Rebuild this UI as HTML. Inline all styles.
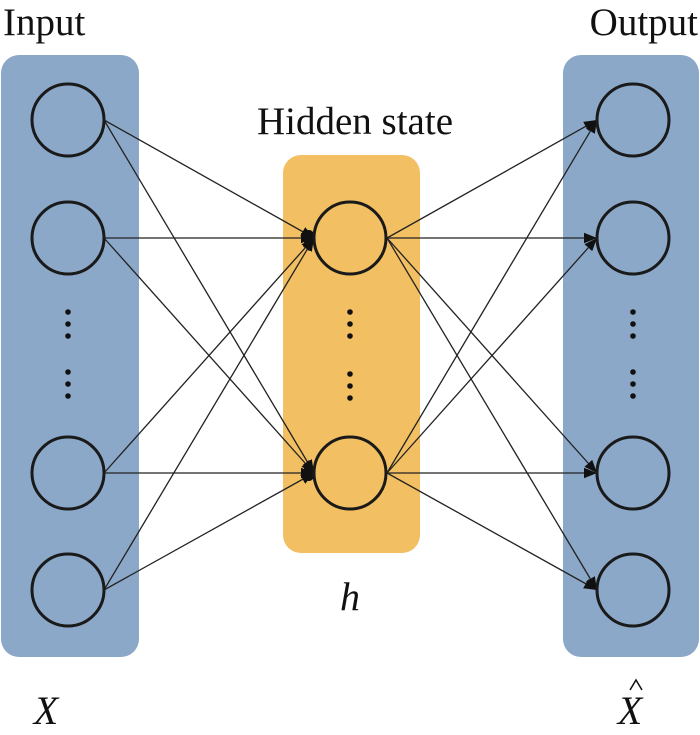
<!DOCTYPE html>
<html><head><meta charset="utf-8"><style>
html,body{margin:0;padding:0;background:#fff;}
</style></head><body>
<svg width="700" height="730" xmlns="http://www.w3.org/2000/svg" font-family="Liberation Serif, serif">
<defs>
<marker id="a" viewBox="0 0 10 10" refX="10" refY="5" markerWidth="13" markerHeight="13" orient="auto" markerUnits="userSpaceOnUse">
<path d="M0,1 L10,5 L0,9 z" fill="#111"/>
</marker>
</defs>
<rect x="1" y="55" width="138" height="602" rx="18" fill="#8BA8C8"/>
<rect x="563" y="55" width="136" height="602" rx="18" fill="#8BA8C8"/>
<rect x="283" y="155" width="137" height="398" rx="18" fill="#F2BF62"/>
<g stroke="#222" stroke-width="1.3" marker-end="url(#a)" fill="none">
<line x1="104" y1="120" x2="314" y2="238"/>
<line x1="104" y1="120" x2="314" y2="473"/>
<line x1="104" y1="238" x2="314" y2="238"/>
<line x1="104" y1="238" x2="314" y2="473"/>
<line x1="104" y1="473" x2="314" y2="238"/>
<line x1="104" y1="473" x2="314" y2="473"/>
<line x1="104" y1="590" x2="314" y2="238"/>
<line x1="104" y1="590" x2="314" y2="473"/>
<line x1="387" y1="238" x2="597" y2="120"/>
<line x1="387" y1="238" x2="597" y2="238"/>
<line x1="387" y1="238" x2="597" y2="473"/>
<line x1="387" y1="238" x2="597" y2="590"/>
<line x1="387" y1="473" x2="597" y2="120"/>
<line x1="387" y1="473" x2="597" y2="238"/>
<line x1="387" y1="473" x2="597" y2="473"/>
<line x1="387" y1="473" x2="597" y2="590"/>
</g>
<g fill="#111">
<ellipse cx="309" cy="238" rx="6" ry="8"/>
<ellipse cx="309" cy="473" rx="6" ry="8"/>
</g>
<g stroke="#1a1a1a" stroke-width="3" fill="none">
<circle cx="68" cy="120" r="36"/><circle cx="68" cy="238" r="36"/>
<circle cx="68" cy="473" r="36"/><circle cx="68" cy="590" r="36"/>
<circle cx="350" cy="238" r="36"/><circle cx="350" cy="473" r="36"/>
<circle cx="633" cy="120" r="36"/><circle cx="633" cy="238" r="36"/>
<circle cx="633" cy="473" r="36"/><circle cx="633" cy="590" r="36"/>
</g>
<g fill="#111">
<circle cx="68" cy="312" r="2.8"/><circle cx="68" cy="324" r="2.8"/><circle cx="68" cy="336" r="2.8"/>
<circle cx="68" cy="372" r="2.8"/><circle cx="68" cy="384" r="2.8"/><circle cx="68" cy="396" r="2.8"/>
<circle cx="350" cy="312" r="2.8"/><circle cx="350" cy="324" r="2.8"/><circle cx="350" cy="336" r="2.8"/>
<circle cx="350" cy="374" r="2.8"/><circle cx="350" cy="386" r="2.8"/><circle cx="350" cy="398" r="2.8"/>
<circle cx="633" cy="312" r="2.8"/><circle cx="633" cy="324" r="2.8"/><circle cx="633" cy="336" r="2.8"/>
<circle cx="633" cy="372" r="2.8"/><circle cx="633" cy="384" r="2.8"/><circle cx="633" cy="396" r="2.8"/>
</g>
<g fill="#111" font-size="39">
<text x="3" y="35">Input</text>
<text x="355" y="134" text-anchor="middle">Hidden state</text>
<text x="698" y="35" text-anchor="end">Output</text>
<text x="46" y="724" font-style="italic" font-size="40" text-anchor="middle">X</text>
<text x="350" y="610" font-style="italic" font-size="40" text-anchor="middle">h</text>
<text x="630" y="724" font-style="italic" font-size="40" text-anchor="middle">X</text>
</g>
<path d="M630,690 L636,680 L642,690" stroke="#111" stroke-width="1.5" fill="none"/>
</svg>
</body></html>
